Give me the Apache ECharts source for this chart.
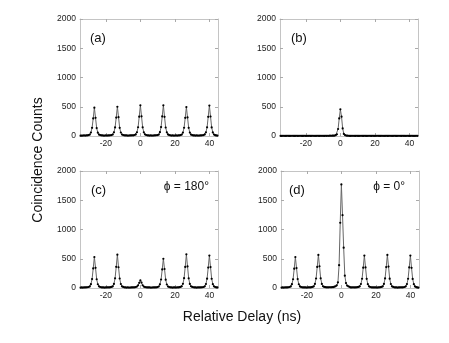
<!DOCTYPE html>
<html>
<head>
<meta charset="utf-8">
<script src="https://cdn.jsdelivr.net/npm/echarts@6/dist/echarts.min.js"></script>
<style>
  html, body { margin: 0; padding: 0; background: #fff; }
  #main { width: 449px; height: 343px; }
</style>
</head>
<body>
<div id="main"></div>
<script>
// delay grid (ns), 20 samples per 13.33 ns pulse period
const delay = [
  -34.67, -34, -33.33, -32.67, -32, -31.33, -30.67, -30, -29.33, -28.67, -28, -27.33, -26.67, -26, -25.33, -24.67, -24, -23.33, -22.67, -22,
  -21.33, -20.67, -20, -19.33, -18.67, -18, -17.33, -16.67, -16, -15.33, -14.67, -14, -13.33, -12.67, -12, -11.33, -10.67, -10, -9.33, -8.67,
  -8, -7.33, -6.67, -6, -5.33, -4.67, -4, -3.33, -2.67, -2, -1.33, -0.67, 0, 0.67, 1.33, 2, 2.67, 3.33, 4, 4.67,
  5.33, 6, 6.67, 7.33, 8, 8.67, 9.33, 10, 10.67, 11.33, 12, 12.67, 13.33, 14, 14.67, 15.33, 16, 16.67, 17.33, 18,
  18.67, 19.33, 20, 20.67, 21.33, 22, 22.67, 23.33, 24, 24.67, 25.33, 26, 26.67, 27.33, 28, 28.67, 29.33, 30, 30.67, 31.33,
  32, 32.67, 33.33, 34, 34.67, 35.33, 36, 36.67, 37.33, 38, 38.67, 39.33, 40, 40.67, 41.33, 42, 42.67, 43.33, 44, 44.67
];

// (a)
const countsA = [
  6, 8, 7, 9, 8, 10, 12, 15, 24, 60, 140, 300, 485, 310, 135, 57, 25, 16, 11, 9,
  8, 7, 9, 8, 10, 9, 13, 16, 26, 62, 146, 315, 500, 322, 140, 60, 26, 15, 12, 10,
  9, 8, 7, 10, 9, 11, 12, 17, 27, 64, 150, 330, 525, 336, 148, 63, 28, 17, 12, 9,
  8, 9, 8, 7, 10, 11, 13, 16, 25, 65, 152, 334, 525, 328, 145, 62, 27, 16, 11, 8,
  9, 7, 8, 9, 8, 10, 12, 15, 24, 59, 141, 310, 495, 318, 139, 58, 25, 15, 10, 9,
  8, 9, 7, 8, 10, 9, 13, 16, 27, 63, 149, 328, 520, 333, 146, 61, 26, 14, 10, 8
];

// (b)
const countsB = [
  3, 2, 4, 3, 2, 3, 4, 3, 2, 3, 4, 3, 2, 3, 4, 2, 3, 4, 3, 2,
  3, 4, 2, 3, 3, 4, 2, 3, 4, 3, 2, 3, 4, 3, 2, 4, 3, 3, 2, 4,
  3, 4, 3, 5, 4, 5, 6, 8, 14, 30, 120, 300, 456, 330, 130, 35, 15, 8, 5, 4,
  3, 2, 4, 3, 3, 2, 4, 3, 2, 3, 4, 3, 2, 4, 3, 2, 3, 4, 3, 2,
  4, 3, 2, 3, 4, 3, 3, 2, 4, 3, 2, 3, 4, 2, 3, 4, 3, 2, 3, 4,
  3, 2, 3, 4, 3, 2, 4, 3, 3, 2, 4, 3, 2, 3, 4, 3, 2, 3, 4, 3
];

// (c) phi = 180
const countsC = [
  7, 9, 8, 10, 9, 11, 13, 17, 27, 66, 152, 335, 530, 345, 150, 64, 28, 17, 12, 10,
  9, 8, 10, 9, 11, 10, 14, 18, 29, 70, 165, 362, 570, 355, 162, 68, 29, 18, 12, 10,
  8, 9, 8, 7, 9, 10, 11, 12, 15, 24, 45, 88, 130, 92, 47, 25, 16, 12, 10, 9,
  9, 8, 7, 9, 10, 9, 12, 16, 26, 62, 145, 318, 500, 325, 142, 60, 26, 16, 11, 9,
  8, 10, 9, 8, 11, 10, 14, 18, 30, 71, 168, 360, 575, 368, 165, 69, 30, 18, 13, 10,
  9, 8, 9, 10, 9, 11, 13, 17, 28, 68, 160, 350, 555, 357, 158, 66, 28, 17, 11, 9
];

// (d) phi = 0
const countsD = [
  8, 9, 7, 10, 9, 10, 13, 17, 27, 65, 150, 330, 530, 340, 152, 64, 27, 16, 12, 10,
  9, 10, 8, 9, 11, 10, 14, 18, 29, 70, 162, 360, 565, 372, 165, 70, 30, 19, 14, 12,
  11, 12, 13, 12, 14, 16, 22, 30, 45, 95, 390, 1115, 1770, 1245, 690, 210, 85, 42, 28, 20,
  10, 9, 11, 10, 9, 12, 14, 18, 28, 68, 158, 348, 555, 352, 156, 66, 28, 17, 12, 10,
  9, 10, 9, 8, 10, 11, 14, 18, 29, 70, 163, 358, 565, 366, 160, 68, 29, 18, 12, 10,
  9, 8, 10, 9, 11, 10, 13, 17, 28, 67, 158, 352, 555, 345, 155, 65, 27, 16, 10, 8
];

const xTicks = [-20, 0, 20, 40];
const panelLabels = ['(a)', '(b)', '(c)', '(d)'];
const phaseLabels = ['', '', 'ϕ = 180°', 'ϕ = 0°'];

const panels = [countsA, countsB, countsC, countsD];
const boxes = [
  { left: 80, top: 19 },
  { left: 280, top: 19 },
  { left: 80, top: 171 },
  { left: 281, top: 171 }
];

const font = 'Liberation Sans, Arial, Helvetica, sans-serif';
const frame = '#c4c4c4';

const grid = [], xAxis = [], yAxis = [], series = [];
panels.forEach((counts, i) => {
  grid.push({ left: boxes[i].left, top: boxes[i].top, width: 138, height: 117 });
  ['bottom', 'top'].forEach((pos) => {
    xAxis.push({
      gridIndex: i, type: 'value', position: pos, min: -35, max: 45,
      axisLine: { show: true, onZero: false, lineStyle: { color: frame, width: 1 } },
      axisTick: { show: true, inside: true, length: 3, customValues: xTicks, lineStyle: { color: '#aaa' } },
      axisLabel: { show: pos === 'bottom', customValues: xTicks, fontSize: 8.5, color: '#222', margin: 3, fontFamily: font },
      splitLine: { show: false }
    });
  });
  ['left', 'right'].forEach((pos) => {
    yAxis.push({
      gridIndex: i, type: 'value', position: pos, min: 0, max: 2000, interval: 500,
      axisLine: { show: true, onZero: false, lineStyle: { color: frame, width: 1 } },
      axisTick: { show: true, inside: true, length: 3, lineStyle: { color: '#aaa' } },
      axisLabel: {
        show: pos === 'left', fontSize: 8.5, color: '#222', margin: 4, fontFamily: font,
        formatter: (v) => String(v)
      },
      splitLine: { show: false }
    });
  });
  series.push({
    type: 'line',
    xAxisIndex: i * 2,
    yAxisIndex: i * 2,
    data: delay.map((d, k) => [d, counts[k]]),
    symbol: 'circle',
    symbolSize: 2.2,
    showSymbol: true,
    lineStyle: { color: '#666', width: 1 },
    itemStyle: { color: '#000' },
    silent: true
  });
});

const graphic = [];
const labelPos = [[90, 39], [291, 39], [91, 191], [289, 191]];
const phasePos = [[0, 0], [0, 0], [209, 187], [405, 187]];
panelLabels.forEach((t, i) => {
  graphic.push({
    type: 'text', left: labelPos[i][0], top: labelPos[i][1] - 7,
    style: { text: t, font: '13px ' + font, fill: '#111' }
  });
  if (phaseLabels[i]) {
    graphic.push({
      type: 'text', x: phasePos[i][0], y: phasePos[i][1],
      style: { text: phaseLabels[i], font: '12px ' + font, fill: '#111', align: 'right', verticalAlign: 'middle' }
    });
  }
});
graphic.push({
  type: 'text', x: 38, y: 160, rotation: Math.PI / 2,
  style: { text: 'Coincidence Counts', font: '14px ' + font, fill: '#111', align: 'center', verticalAlign: 'middle' }
});
graphic.push({
  type: 'text', x: 242, y: 317,
  style: { text: 'Relative Delay (ns)', font: '14px ' + font, fill: '#111', align: 'center', verticalAlign: 'middle' }
});

const chart = echarts.init(document.getElementById('main'));
chart.setOption({
  animation: false,
  backgroundColor: '#fff',
  grid, xAxis, yAxis, series, graphic
});
</script>
</body>
</html>
